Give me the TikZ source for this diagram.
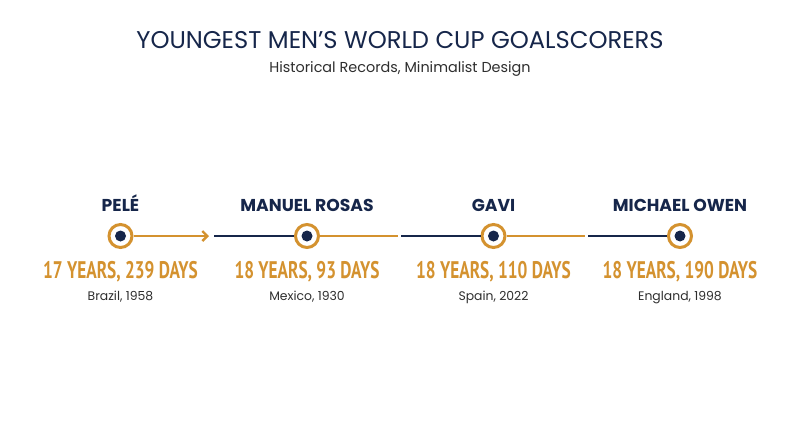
\documentclass[tikz,border=0pt]{standalone}
\usepackage{fontspec}
\setmainfont{Poppins}
\newfontfamily\agefont[FakeStretch=0.72]{PT Sans}
\usetikzlibrary{arrows.meta}
\definecolor{navy}{HTML}{16264A}
\definecolor{gold}{HTML}{D4922F}
\definecolor{txtgray}{HTML}{2E2E2E}
\tikzset{
  ringnode/.style={circle, draw=gold, line width=3pt, fill=white, minimum size=23pt, inner sep=0pt},
  dotnode/.style={circle, fill=navy, minimum size=11pt, inner sep=0pt},
  playername/.style={font=\bfseries\fontsize{17.2}{20}\selectfont, text=navy, anchor=base},
  agetext/.style={font=\agefont\bfseries\fontsize{24}{28}\selectfont, text=gold, anchor=base},
  placetext/.style={font=\fontsize{12.4}{15}\selectfont, text=txtgray, anchor=base},
  goldline/.style={draw=gold, line width=2.6pt},
  navyline/.style={draw=navy, line width=2.6pt},
}
\begin{document}
\begin{tikzpicture}[x=1pt,y=-1pt]
\path[use as bounding box, fill=white] (0,0) rectangle (800,447);
\node[font=\fontsize{24.2}{28}\selectfont, text=navy, anchor=base] (title) at (400,48.5) {YOUNGEST MEN’S WORLD CUP GOALSCORERS};
\node[font=\fontsize{14.4}{17}\selectfont, text=txtgray, anchor=base] (sub) at (400,72) {Historical Records, Minimalist Design};

% connectors
\coordinate (a1) at (209,236);
\coordinate (b1) at (214,236);
\coordinate (a2) at (398,236);
\coordinate (b2) at (401,236);
\coordinate (a3) at (585,236);
\coordinate (b3) at (588,236);

\node[ringnode] (r1) at (120.5,236) {};
\node[ringnode] (r2) at (307,236) {};
\node[ringnode] (r3) at (493.5,236) {};
\node[ringnode] (r4) at (680,236) {};

\draw[goldline, -{Straight Barb[length=5pt,width=10pt,line width=2.4pt]}] (r1.east) -- (a1);
\draw[navyline] (b1) -- (r2.west);
\draw[goldline] (r2.east) -- (a2);
\draw[navyline] (b2) -- (r3.west);
\draw[goldline] (r3.east) -- (a3);
\draw[navyline] (b3) -- (r4.west);

\node[dotnode] (d1) at (r1) {};
\node[dotnode] (d2) at (r2) {};
\node[dotnode] (d3) at (r3) {};
\node[dotnode] (d4) at (r4) {};

\node[playername] (n1) at (120.5,211.5) {PELÉ};
\node[playername] (n2) at (307,211.5) {MANUEL ROSAS};
\node[playername] (n3) at (493.5,211.5) {GAVI};
\node[playername] (n4) at (680,211.5) {MICHAEL OWEN};

\node[agetext] (g1) at (120.5,278.5) {17 YEARS, 239 DAYS};
\node[agetext] (g2) at (307,278.5) {18 YEARS, 93 DAYS};
\node[agetext] (g3) at (493.5,278.5) {18 YEARS, 110 DAYS};
\node[agetext] (g4) at (680,278.5) {18 YEARS, 190 DAYS};

\node[placetext] (p1) at (120.5,300.5) {Brazil, 1958};
\node[placetext] (p2) at (307,300.5) {Mexico, 1930};
\node[placetext] (p3) at (493.5,300.5) {Spain, 2022};
\node[placetext] (p4) at (680,300.5) {England, 1998};
\end{tikzpicture}
\end{document}
